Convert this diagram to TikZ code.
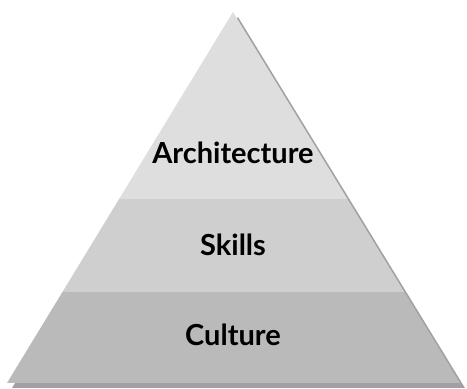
\documentclass[tikz,border=0pt]{standalone}
\usepackage{fontspec}
\setmainfont{Lato}
\usetikzlibrary{calc}

\begin{document}
\begin{tikzpicture}[x=1pt, y=1pt]
        % Define styles for the layers and labels
        \tikzset{
            layer label/.style={font=\fontsize{29}{33}\selectfont\bfseries, text=black, inner sep=0pt}
        }
        \definecolor{topgray}{gray}{0.87}
        \definecolor{midgray}{gray}{0.81}
        \definecolor{lowgray}{gray}{0.73}
        \definecolor{shadowgray}{gray}{0.63}

        \useasboundingbox (0, 0) rectangle (467, 389);

        % Corners of the pyramid
        \coordinate (apex) at (233, 377);
        \coordinate (left) at (7, 6);
        \coordinate (right) at (460, 6);

        % Drop shadow
        \fill[shadowgray] ($(apex)+(5,-5)$) -- ($(left)+(5,-5)$) -- ($(right)+(5,-5)$) -- cycle;

        % Draw the three layers
        \fill[lowgray] (left) -- (right) -- ($(right)!0.2453!(apex)$) -- ($(left)!0.2453!(apex)$) -- cycle;
        \fill[midgray] ($(left)!0.2453!(apex)$) -- ($(right)!0.2453!(apex)$) -- ($(right)!0.496!(apex)$) -- ($(left)!0.496!(apex)$) -- cycle;
        \fill[topgray] ($(left)!0.496!(apex)$) -- ($(right)!0.496!(apex)$) -- (apex) -- cycle;

        % Labels for the layers
        \node[layer label] (architecture) at (233, 236) {Architecture};
        \node[layer label] (skills) at (233, 144) {Skills};
        \node[layer label] (culture) at (233, 54) {Culture};

    \end{tikzpicture}
\end{document}
